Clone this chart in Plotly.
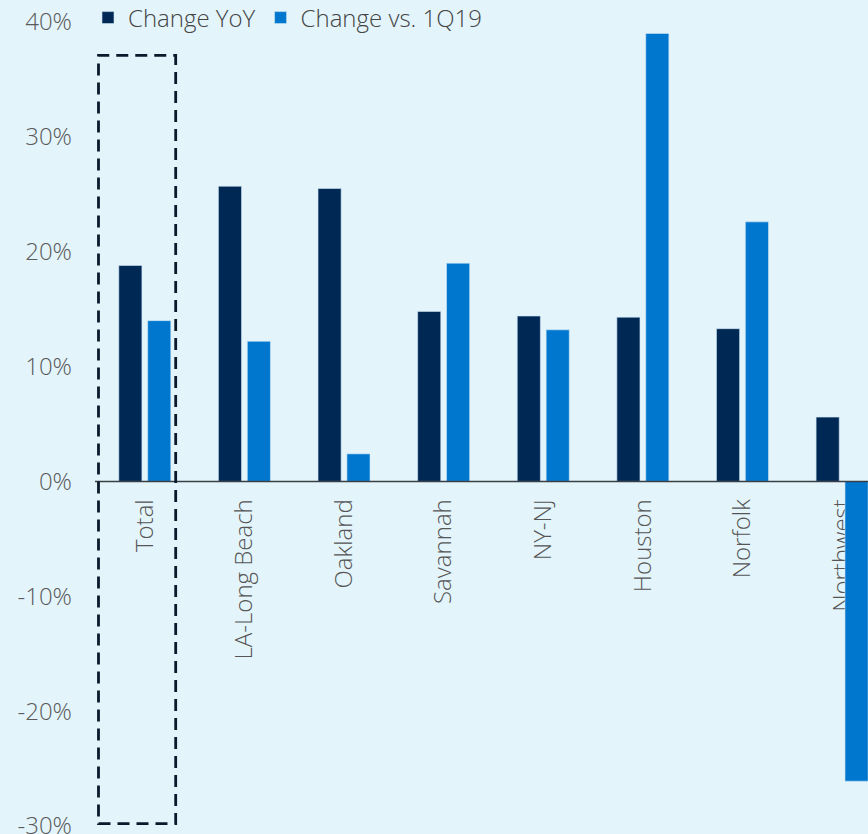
import plotly.graph_objects as go

categories = ["Total", "LA-Long Beach", "Oakland", "Savannah", "NY-NJ", "Houston", "Norfolk", "Northwest"]
change_yoy = [18.8, 25.7, 25.5, 14.8, 14.4, 14.3, 13.3, 5.6]
change_vs_1q19 = [14.0, 12.2, 2.4, 19.0, 13.2, 39.0, 22.6, -26.1]
y_ticks = [-30, -20, -10, 0, 10, 20, 30, 40]
y_tick_labels = [f"{v}%" for v in y_ticks]

BG = "#E3F4FB"
NAVY = "#002855"
BLUE = "#0077CF"
FONT = "Open Sans"
FS = 24

fig = go.Figure()
fig.add_trace(go.Bar(x=categories, y=change_yoy, name="Change YoY",
                     marker=dict(color=NAVY, line=dict(color="#CFE6F3", width=0.6))))
fig.add_trace(go.Bar(x=categories, y=change_vs_1q19, name="Change vs. 1Q19",
                     marker=dict(color=BLUE, line=dict(color="#CFE6F3", width=0.6))))

y_min, y_max = -30, 40
fig.update_layout(
    width=868, height=834,
    margin=dict(l=95, r=0, t=22, b=8, autoexpand=False),
    paper_bgcolor=BG, plot_bgcolor=BG,
    barmode="group", bargap=0.42, bargroupgap=0.2,
    font=dict(family=FONT, size=FS, color="#555555", weight=300),
    showlegend=True,
    legend=dict(orientation="h", x=88 / 868, y=1 - 18 / 834, xanchor="left", yanchor="middle",
                xref="container", yref="container",
                font=dict(family=FONT, size=FS, color="#444444", weight=300),
                bgcolor="rgba(0,0,0,0)", itemwidth=30, traceorder="normal"),
    xaxis=dict(range=[-0.5, 7.26], anchor="free", position=(0 - y_min) / (y_max - y_min),
               showline=False, showgrid=False, zeroline=False,
               tickangle=-90, ticks="", ticklabelstandoff=12,
               ticklabeloverflow="allow",
               tickfont=dict(family=FONT, size=FS, color="#555555", weight=300),
               layer="below traces", automargin=False),
    yaxis=dict(range=[y_min, y_max], tickvals=y_ticks, ticktext=y_tick_labels,
               showgrid=False, zeroline=False, showline=False, ticks="",
               ticklabelstandoff=22, automargin=False, ticklabeloverflow="allow",
               tickfont=dict(family=FONT, size=FS, color="#5a5a5a", weight=300)),
)

# zero line drawn over bars
fig.add_shape(type="line", xref="paper", yref="y", x0=0, x1=1, y0=0, y1=0,
              line=dict(color="#3a3f44", width=1.6), layer="above")

# dashed highlight box around "Total"
fig.add_shape(type="rect", xref="x", yref="y", x0=-0.465, x1=0.31, y0=-29.8, y1=37.1,
              line=dict(color="#0B1A2B", width=2.8, dash="12px,7px"),
              fillcolor="rgba(0,0,0,0)", layer="above")

fig.write_html("out.html")
